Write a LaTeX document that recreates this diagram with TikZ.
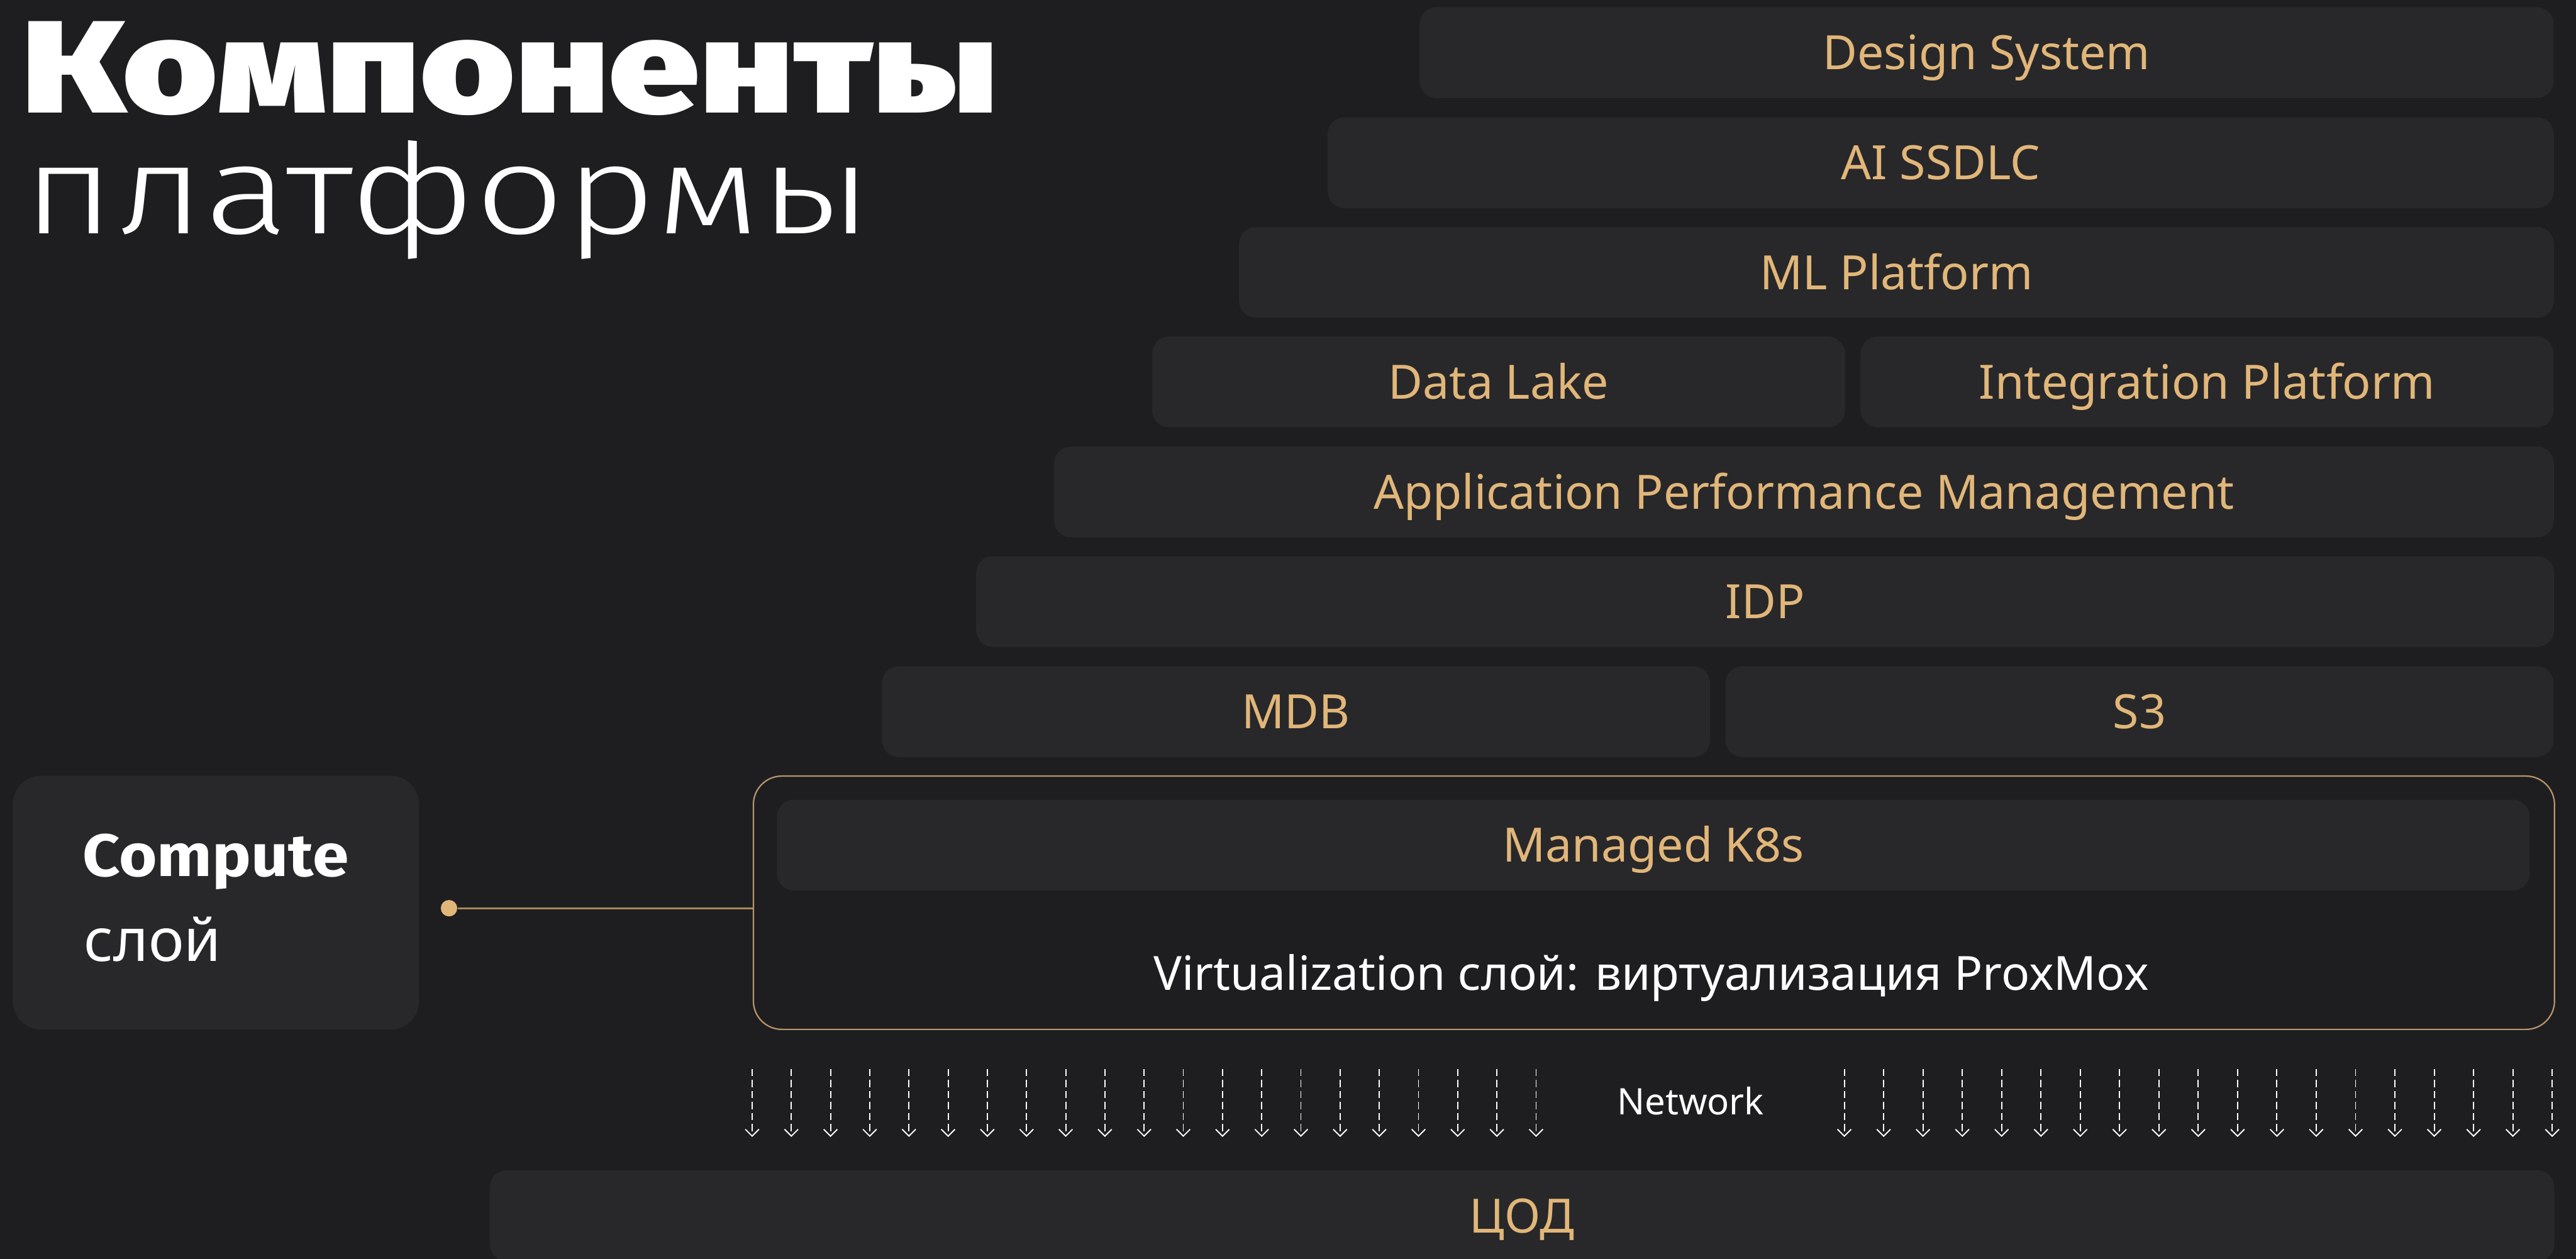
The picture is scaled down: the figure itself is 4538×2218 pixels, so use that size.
\documentclass[tikz,border=0pt]{standalone}
\usepackage{graphicx}
\usepackage{fontspec}
\setmainfont{Noto Sans}
\newfontfamily\heavyfont{Fira Sans Black}
\newfontfamily\thinfont{Fira Sans Light}
\newfontfamily\labelfont{Fira Sans}[FakeStretch=1.09]
\usetikzlibrary{arrows.meta}

\definecolor{bg}{HTML}{1E1E20}
\definecolor{barfill}{HTML}{28282A}
\definecolor{gold}{HTML}{E1B679}
\definecolor{goldline}{HTML}{A9875A}
\definecolor{goldedge}{HTML}{B8956A}

\tikzset{
  bar/.style={fill=barfill, rounded corners=0.3cm, anchor=north west,
    minimum height=1.6cm, inner sep=0pt, text=gold,
    font=\fontsize{23.7}{28}\selectfont, text height=0.6cm, text depth=0pt},
  whitetext/.style={text=white, inner sep=0pt},
  netarrow/.style={white, line width=0.6pt, dash pattern=on 0.127cm off 0.067cm,
    -{Straight Barb[length=0.12cm, width=0.24cm]}},
}

\begin{document}
\begin{tikzpicture}[x=0.01cm, y=-0.01cm]
  % canvas
  \fill[bg] (0,0) rectangle (4538,2218);
  \useasboundingbox (0,0) rectangle (4538,2218);

  % title
  \node[whitetext, anchor=base west] (title1) at (38,199)
    {\resizebox{17.19cm}{1.61cm}{\heavyfont Компоненты}};
  \node[whitetext, anchor=base west] (title2) at (40,412)
    {\resizebox{14.95cm}{1.64cm}{\thinfont платформы}};

  % service layers
  \node[bar, minimum width=19.97cm] (ds)   at (2500,12)   {Design System};
  \node[bar, minimum width=21.59cm] (ai)   at (2338,206)  {AI SSDLC};
  \node[bar, minimum width=23.15cm] (ml)   at (2182,399)  {ML Platform};
  \node[bar, minimum width=12.20cm] (dl)   at (2029,592)  {Data Lake};
  \node[bar, minimum width=12.20cm] (ip)   at (3277,592)  {Integration Platform};
  \node[bar, minimum width=26.41cm] (apm)  at (1856,786)  {Application Performance Management};
  \node[bar, minimum width=27.78cm] (idp)  at (1719,979)  {IDP};
  \node[bar, minimum width=14.58cm] (mdb)  at (1553,1173) {MDB};
  \node[bar, minimum width=14.58cm] (s3)   at (3039,1173) {S3};

  % compute layer frame
  \node[draw=goldedge, line width=0.7pt, rounded corners=0.5cm, anchor=north west,
        minimum width=31.71cm, minimum height=4.46cm, inner sep=0pt] (vm) at (1326,1366) {};
  \node[bar, minimum width=30.86cm] (k8s) at (1368,1408) {Managed K8s};
  \node[whitetext, anchor=base, font=\fontsize{23.6}{30}\selectfont] (virt) at (2909,1744)
    {Virtualization слой: виртуализация ProxMox};

  % compute label
  \node[fill=barfill, rounded corners=0.5cm, anchor=north west,
        minimum width=7.15cm, minimum height=4.47cm, inner sep=0pt] (compute) at (22,1366) {};
  \node[whitetext, anchor=base west, font=\labelfont\bfseries\fontsize{30}{36}\selectfont] (computeA) at (145,1544) {Compute};
  \node[whitetext, anchor=base west, font=\fontsize{30}{36}\selectfont] (computeB) at (147,1693) {слой};

  % connector
  \node[circle, fill=gold, minimum size=0.29cm, inner sep=0pt] (dot) at (791,1600) {};
  \coordinate (vmin) at (vm.west |- dot);
  \draw[goldline, line width=0.85pt] (dot.east) -- (vmin);

  % network
  \foreach \i in {0,...,20}
    \draw[netarrow] (1325+\i*69.05,1883) -- ++(0,120);
  \foreach \i in {0,...,18}
    \draw[netarrow] (3249+\i*69.28,1883) -- ++(0,120);
  \node[whitetext, anchor=base, font=\fontsize{18.3}{22}\selectfont] (net) at (2978,1964) {Network};

  % data centre
  \node[bar, minimum width=36.35cm] (dc) at (862,2061) {ЦОД};
\end{tikzpicture}
\end{document}
